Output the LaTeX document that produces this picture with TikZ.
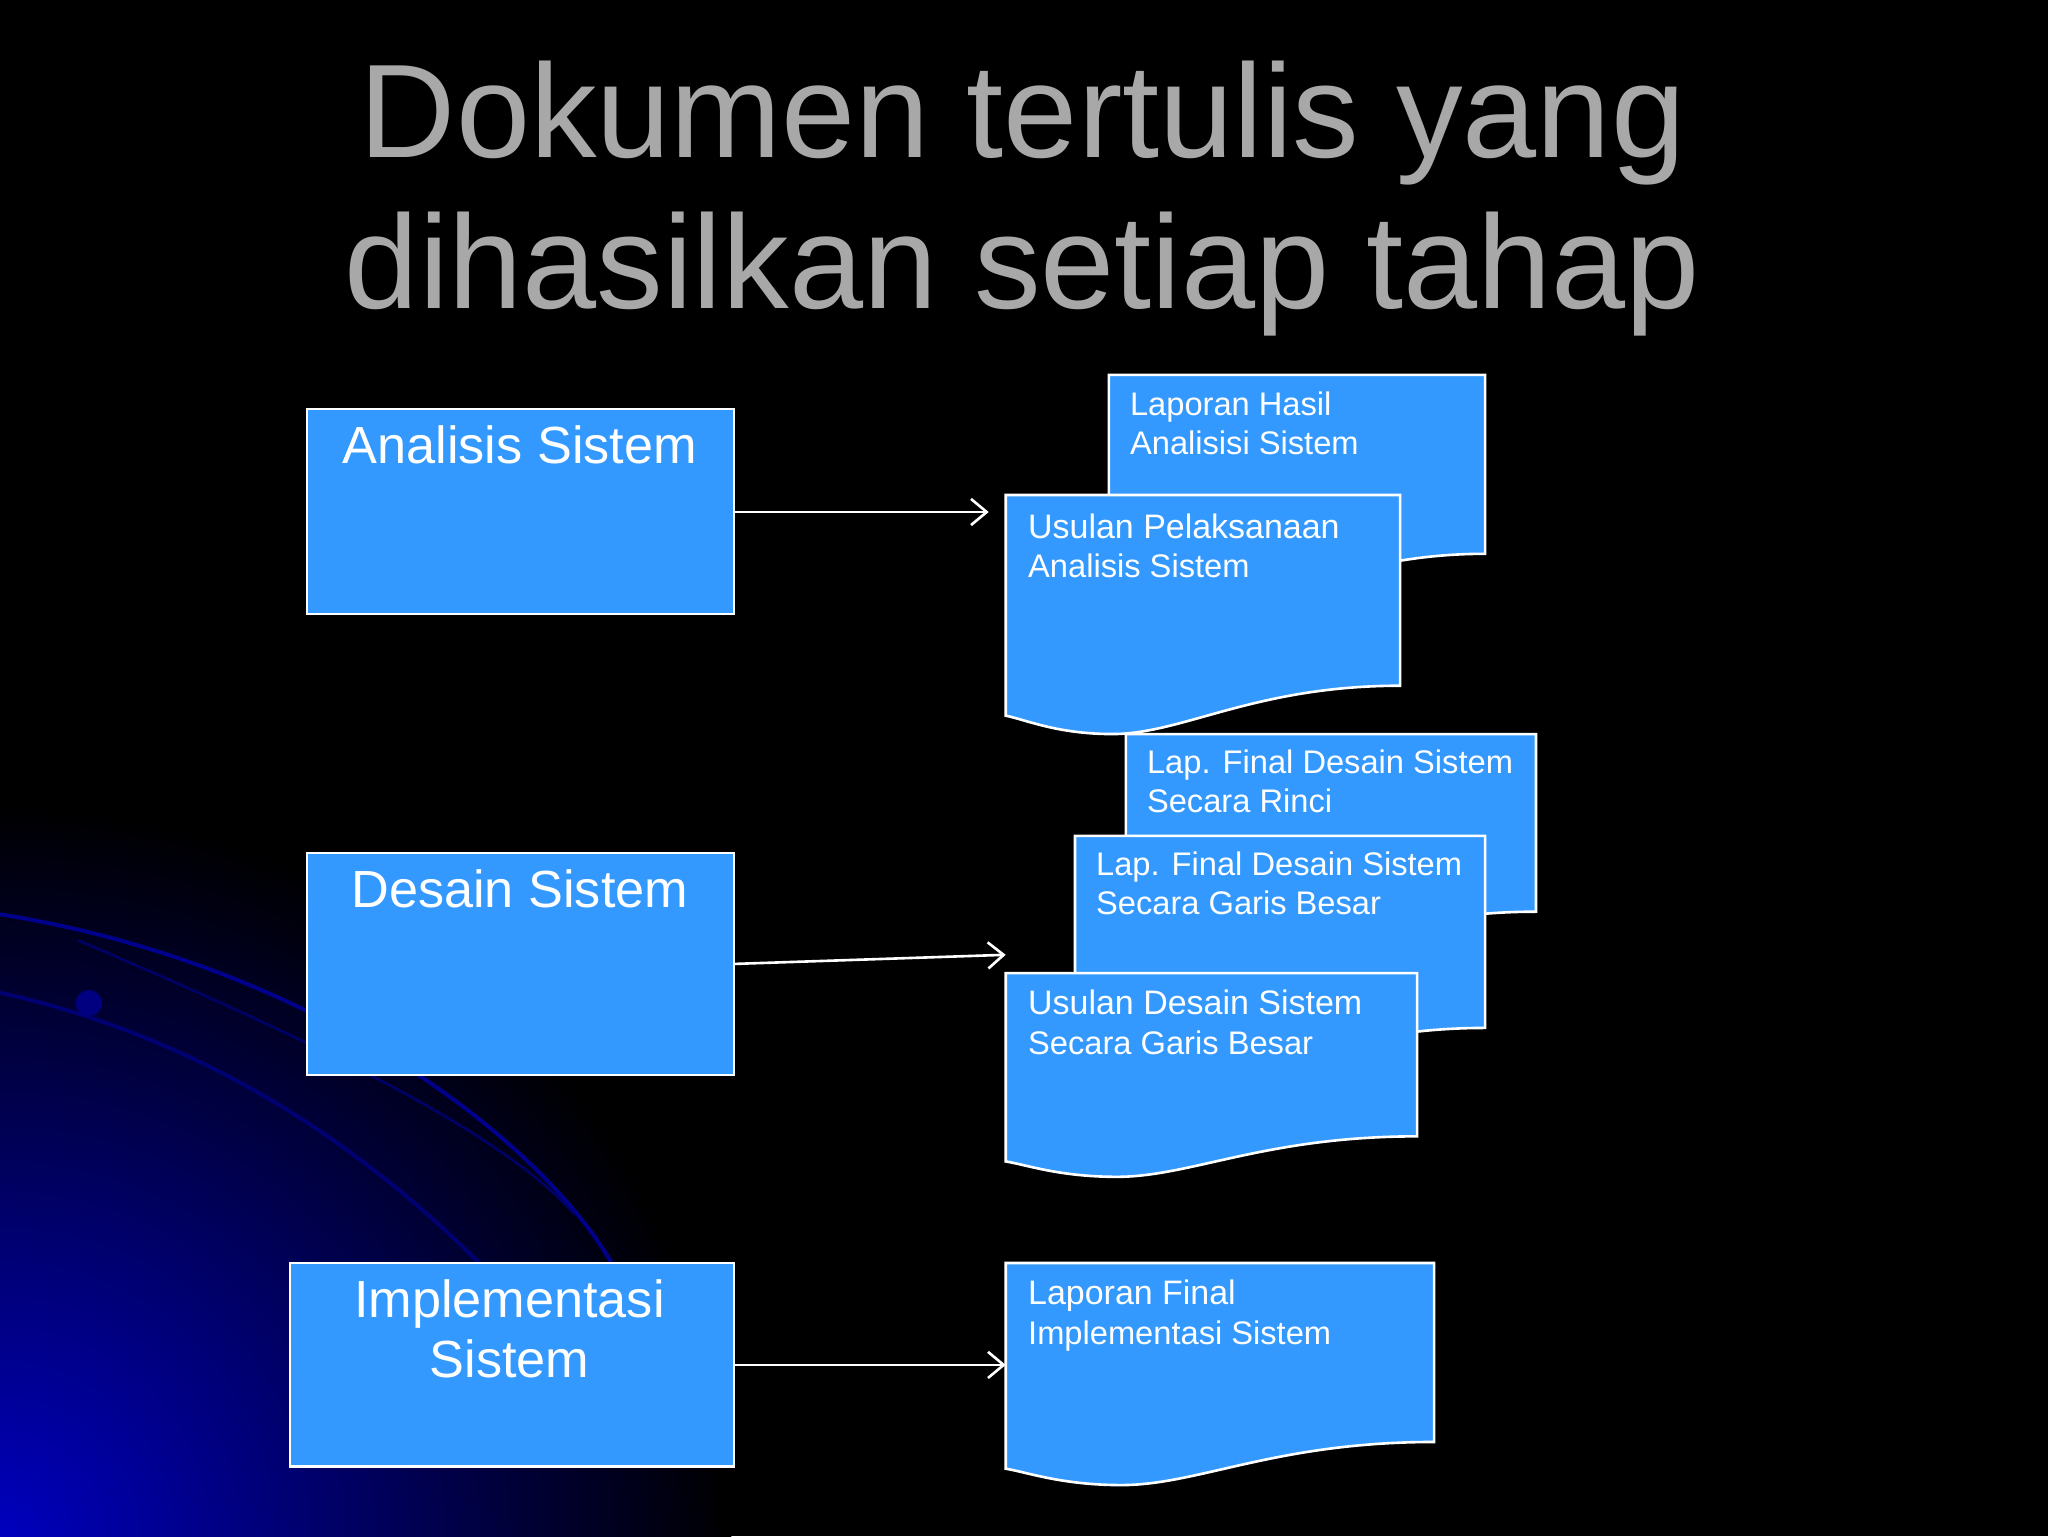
\documentclass[tikz,border=0pt]{standalone}
\usepackage{fontspec}
\setmainfont{Liberation Sans}
\usetikzlibrary{arrows.meta}
\definecolor{boxblue}{HTML}{3399FF}
\definecolor{titlegray}{HTML}{A8A8A8}
\tikzset{
  procbox/.style={draw=white,line width=2pt,fill=boxblue},
  boxtext/.style={text=white,font=\fontsize{40}{46}\selectfont,align=center,anchor=north},
  doctext/.style={text=white,font=\fontsize{25}{30}\selectfont,align=left,anchor=north west,inner sep=0pt},
  docshape/.style={draw=white,line width=2pt,fill=boxblue},
  flow/.style={draw=white,line width=2pt,-{Straight Barb[length=12pt,width=20pt,line width=2pt]}}
}
\newcommand{\mydoc}[5]{% x1,y1,x2,y2(right bottom),depth
  \path[docshape] (#1,#2) -- (#3,#2) -- (#3,#4)
    .. controls ({#3-0.37*(#3-#1)},#4) and ({#1+0.45*(#3-#1)},{#4+#5}) .. ({#1+0.27*(#3-#1)},{#4+#5})
    .. controls ({#1+0.13*(#3-#1)},{#4+#5}) and ({#1+0.05*(#3-#1)},{#4+0.7*#5}) .. (#1,{#4+0.62*#5}) -- cycle;}
\begin{document}
\begin{tikzpicture}[x=1pt,y=-1pt]
\fill[black] (0,0) rectangle (1568,1176);
\useasboundingbox (0,0) rectangle (1568,1176);
\begin{scope}
\clip (0,0) rectangle (1568,1176);
\shade[inner color={rgb,255:red,0;green,0;blue,190},outer color=black] (0,1176) circle (560pt);
\draw[blue!55!black,line width=3pt] (0,700) .. controls (250,740) and (420,880) .. (470,970);
\draw[blue!45!black,line width=3pt] (0,760) .. controls (180,800) and (300,900) .. (370,970);
\draw[blue!40!black,line width=2pt] (60,720) .. controls (200,780) and (380,860) .. (440,930);
\fill[blue!50!black] (68,768) circle (10pt);
\end{scope}
\node[text=titlegray,font=\fontsize{102}{115}\selectfont,align=center] (title) at (783,152) {Dokumen tertulis yang\\dihasilkan setiap tahap};
% process boxes
\draw[procbox] (235,313) rectangle (562,470);
\node[boxtext] (ana) at (398,322) {Analisis Sistem};
\draw[procbox] (235,653) rectangle (562,823);
\node[boxtext] (des) at (398,662) {Desain Sistem};
\draw[procbox] (222,967) rectangle (562,1123);
\node[boxtext] (imp) at (390,976) {Implementasi\\Sistem};
\coordinate (anaR) at (562,392);
\coordinate (desR) at (562,738);
\coordinate (impR) at (562,1045);
% documents
\mydoc{849}{287}{1137}{424}{40}
\node[doctext] (d1) at (865,300) {Laporan Hasil\\Analisisi Sistem};
\mydoc{770}{379}{1072}{525}{37}
\node[doctext] (d2) at (787,393) {\fontsize{26}{31}\selectfont Usulan Pelaksanaan\\Analisis Sistem};
\mydoc{862}{562}{1176}{698}{40}
\node[doctext] (d3) at (878,574) {Lap. Final Desain Sistem\\Secara Rinci};
\mydoc{823}{640}{1137}{787}{40}
\node[doctext] (d4) at (839,652) {Lap. Final Desain Sistem\\Secara Garis Besar};
\mydoc{770}{745}{1085}{870}{31}
\node[doctext] (d5) at (787,758) {\fontsize{26}{31}\selectfont Usulan Desain Sistem\\Secara Garis Besar};
\mydoc{770}{967}{1098}{1104}{33}
\node[doctext] (d6) at (787,980) {\fontsize{26}{31}\selectfont Laporan Final\\Implementasi Sistem};
\coordinate (d2L) at (757,392);
\coordinate (d5L) at (770,731);
\coordinate (d6L) at (770,1045);
\draw[flow] (anaR) -- (d2L);
\draw[flow] (desR) -- (d5L);
\draw[flow] (impR) -- (d6L);
\end{tikzpicture}
\end{document}
